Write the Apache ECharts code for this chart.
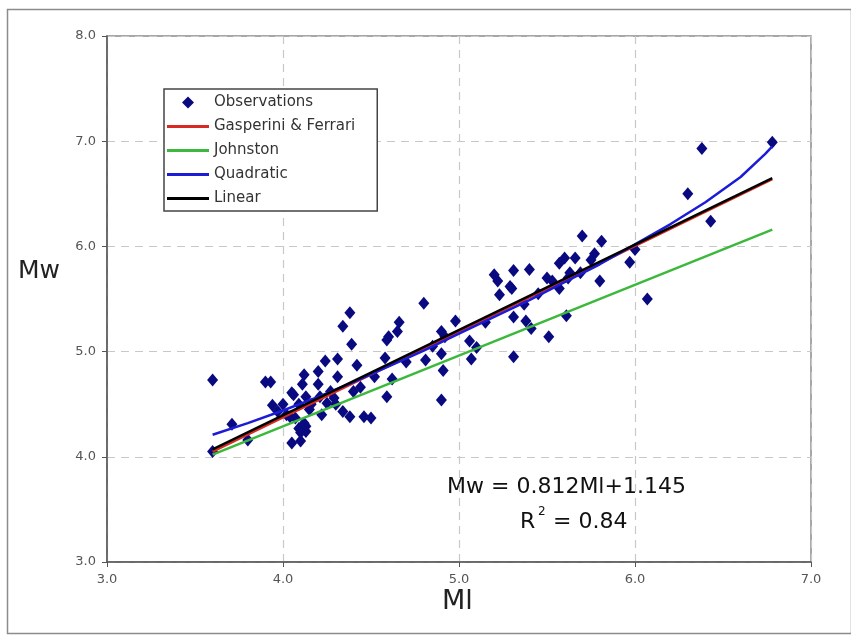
<!DOCTYPE html>
<html>
<head>
<meta charset="utf-8">
<script src="https://cdn.jsdelivr.net/npm/echarts@6/dist/echarts.min.js"></script>
<style>html,body{margin:0;padding:0;background:#fff;}#c{width:851px;height:639px;}</style>
</head>
<body>
<div id="c"></div>
<script>
// Observations (Ml, Mw)
const obsMl = [3.60,3.60,3.71,3.80,3.90,3.93,3.94,3.97,4.00,4.04,4.05,4.05,4.10,4.09,4.10,4.13,4.13,4.12,4.07,4.09,
  4.11,4.12,4.06,4.13,4.16,4.20,4.20,4.21,4.22,4.24,4.25,4.29,4.30,4.31,4.31,4.34,4.38,4.39,4.34,4.38,
  4.42,4.40,4.46,4.50,4.59,4.58,4.59,4.60,4.65,4.66,4.62,4.80,4.81,4.90,4.91,4.90,4.90,4.98,5.06,5.10,
  5.07,5.22,5.29,5.23,5.20,5.31,5.40,5.30,5.37,5.31,5.38,5.41,5.51,5.61,5.31,5.50,5.53,5.57,5.57,5.60,
  5.66,5.70,5.81,5.77,5.75,5.69,5.63,5.80,5.97,6.00,6.07,6.30,6.43,6.38,6.78,
  4.02,4.15,4.27,4.44,4.52,4.70,4.85,5.15,5.45,4.92,5.62];
const obsMw = [4.73,4.05,4.31,4.16,4.71,4.71,4.49,4.43,4.50,4.38,4.61,4.13,4.15,4.27,4.23,4.29,4.24,4.32,4.37,4.50,
  4.69,4.78,4.59,4.57,4.50,4.81,4.69,4.57,4.40,4.91,4.51,4.56,4.50,4.93,4.76,5.24,5.37,5.07,4.43,4.38,
  4.87,4.62,4.38,4.37,5.11,4.94,4.57,5.14,5.19,5.28,4.74,5.46,4.92,4.98,4.82,4.54,5.19,5.29,5.10,5.04,
  4.93,5.67,5.62,5.54,5.73,5.77,5.78,5.60,5.45,5.33,5.29,5.22,5.14,5.34,4.95,5.70,5.67,5.60,5.84,5.89,
  5.89,6.10,6.05,5.93,5.87,5.75,5.75,5.67,5.85,5.97,5.50,6.50,6.24,6.93,6.99,
  4.40,4.45,4.62,4.66,4.76,4.90,5.05,5.28,5.55,5.14,5.70];

// Gasperini & Ferrari relation
const gfMl = [3.60, 6.78];
const gfMw = [4.05, 6.64];
// Johnston relation
const joMl = [3.60, 6.78];
const joMw = [4.02, 6.16];
// Quadratic fit
const quMl = [3.60, 3.80, 4.00, 4.20, 4.40, 4.60, 4.80, 5.00, 5.20, 5.40, 5.60, 5.80, 6.00, 6.20, 6.40, 6.60, 6.74, 6.78];
const quMw = [4.21, 4.32, 4.44, 4.57, 4.71, 4.86, 5.01, 5.17, 5.33, 5.49, 5.66, 5.83, 6.02, 6.21, 6.42, 6.66, 6.88, 6.95];
// Linear fit
const liMl = [3.60, 6.78];
const liMw = [4.07, 6.65];

const xTicks = [3, 4, 5, 6, 7];
const yTicks = [3, 4, 5, 6, 7, 8];
const seriesNames = ['Observations', 'Gasperini & Ferrari', 'Johnston', 'Quadratic', 'Linear'];

const zip = (a, b) => a.map((v, i) => [v, b[i]]);
const FONT = 'DejaVu Sans';
const lineIcon = 'path://M0,0H42V3H0Z';

const chart = echarts.init(document.getElementById('c'), null, {renderer: 'canvas'});
chart.setOption({
  animation: false,
  backgroundColor: '#ffffff',
  grid: {left: 107, right: 40, top: 36, bottom: 77, show: true, borderColor: '#8a8a8a', borderWidth: 1.5},
  xAxis: {
    type: 'value', min: xTicks[0], max: xTicks[xTicks.length - 1], interval: 1,
    axisLine: {lineStyle: {color: '#555', width: 1.5}},
    axisTick: {show: true, length: 5, lineStyle: {color: '#555'}},
    axisLabel: {formatter: v => v.toFixed(1), color: '#555', fontFamily: FONT, fontSize: 13, margin: 11},
    splitLine: {show: true, lineStyle: {color: '#c8c8c8', type: [8, 6], width: 1.2}}
  },
  yAxis: {
    type: 'value', min: yTicks[0], max: yTicks[yTicks.length - 1], interval: 1,
    axisLine: {show: true, lineStyle: {color: '#555', width: 1.5}},
    axisTick: {show: true, length: 5, lineStyle: {color: '#555'}},
    axisLabel: {formatter: v => v.toFixed(1), color: '#555', fontFamily: FONT, fontSize: 13, margin: 11},
    splitLine: {show: true, lineStyle: {color: '#c8c8c8', type: [8, 6], width: 1.2}}
  },
  legend: {
    orient: 'vertical', left: 164, top: 89,
    padding: [6, 22, 5, 3],
    itemWidth: 42, itemHeight: 12, itemGap: 9, itemTextGap: 5,
    symbolKeepAspect: true,
    backgroundColor: '#fff', borderColor: '#444', borderWidth: 1.5, borderRadius: 0,
    textStyle: {fontFamily: FONT, fontSize: 15, color: '#333', lineHeight: 14},
    data: [
      {name: seriesNames[0], icon: 'path://M5,0L10,5L5,10L0,5Z'},
      {name: seriesNames[1], icon: lineIcon},
      {name: seriesNames[2], icon: lineIcon},
      {name: seriesNames[3], icon: lineIcon},
      {name: seriesNames[4], icon: lineIcon}
    ]
  },
  series: [
    {name: seriesNames[0], type: 'scatter', symbol: 'diamond', symbolSize: [11, 13],
     itemStyle: {color: '#0a0a80', opacity: 1}, data: zip(obsMl, obsMw), z: 2},
    {name: seriesNames[1], type: 'line', showSymbol: false, symbol: 'none',
     itemStyle: {color: '#d82a22'}, lineStyle: {color: '#d82a22', width: 2.5}, data: zip(gfMl, gfMw), z: 3},
    {name: seriesNames[2], type: 'line', showSymbol: false, symbol: 'none',
     itemStyle: {color: '#3cb83c'}, lineStyle: {color: '#3cb83c', width: 2.5}, data: zip(joMl, joMw), z: 4},
    {name: seriesNames[3], type: 'line', showSymbol: false, symbol: 'none',
     itemStyle: {color: '#1c1cd8'}, lineStyle: {color: '#1c1cd8', width: 2.5}, data: zip(quMl, quMw), z: 5},
    {name: seriesNames[4], type: 'line', showSymbol: false, symbol: 'none',
     itemStyle: {color: '#000000'}, lineStyle: {color: '#000000', width: 2.5}, data: zip(liMl, liMw), z: 6}
  ],
  graphic: [
    {type: 'rect', left: 5, top: 7, z: -10, silent: true,
     shape: {width: 844, height: 624}, style: {fill: 'none', stroke: '#8c8c8c', lineWidth: 1.5}},
    {type: 'text', left: 18, top: 259, style: {text: 'Mw', font: '25px "DejaVu Sans"', fill: '#222'}},
    {type: 'text', left: 442, top: 588, style: {text: 'Ml', font: '27px "DejaVu Sans"', fill: '#222'}},
    {type: 'text', left: 447, top: 476, style: {text: 'Mw = 0.812Ml+1.145', font: '22px "DejaVu Sans"', fill: '#111'}},
    {type: 'text', left: 520, top: 511, style: {text: 'R', font: '22px "DejaVu Sans"', fill: '#111'}},
    {type: 'text', left: 538, top: 506, style: {text: '2', font: '12px "DejaVu Sans"', fill: '#111'}},
    {type: 'text', left: 553, top: 511, style: {text: '= 0.84', font: '22px "DejaVu Sans"', fill: '#111'}}
  ]
});
</script>
</body>
</html>
